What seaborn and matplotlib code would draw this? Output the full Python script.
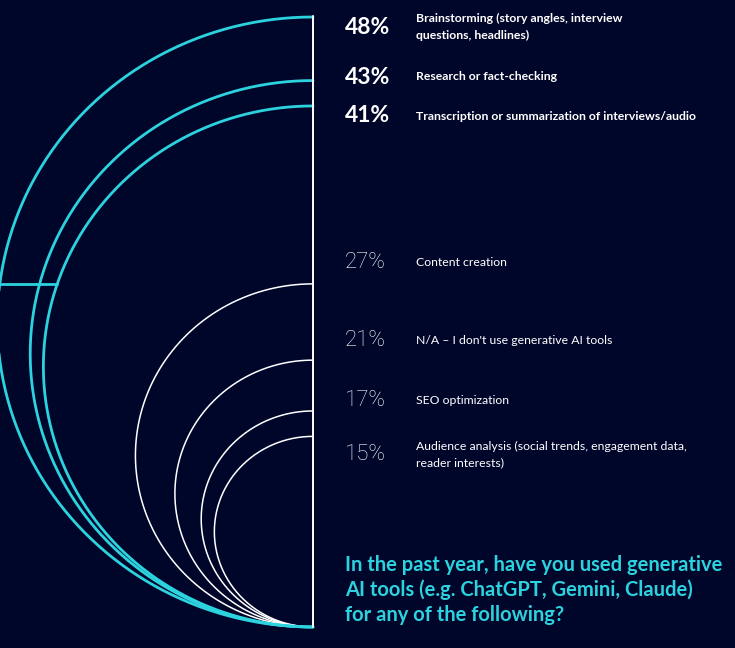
import numpy as np
import pandas as pd
import seaborn as sns
import matplotlib.pyplot as plt

# survey answers, top three highlighted in cyan
categories = [
    'Brainstorming (story angles, interview\nquestions, headlines)',
    'Research or fact-checking',
    'Transcription or summarization of interviews/audio',
    'Content creation',
    "N/A – I don't use generative AI tools",
    'SEO optimization',
    'Audience analysis (social trends, engagement data,\nreader interests)',
]
values = [48, 43, 41, 27, 21, 17, 15]
highlight = [True, True, True, False, False, False, False]
title = ('In the past year, have you used generative\n'
         'AI tools (e.g. ChatGPT, Gemini, Claude)\n'
         'for any of the following?')

bg = '#00052a'
cyan = '#2cd3de'

sns.set_theme(style='dark', rc={'axes.facecolor': bg, 'figure.facecolor': bg})
plt.rcParams['font.family'] = ['Lato', 'DejaVu Sans']

fig = plt.figure(figsize=(7.35, 6.48), dpi=100)
ax = fig.add_axes([0, 0, 1, 1])
ax.set_xlim(0, 735)
ax.set_ylim(648, 0)
ax.axis('off')

# layout: arcs all touch the base point, diameter scales with the value
x0, y0 = 313, 627
scale = 610 / max(values)
stretch = 1.035
theta = np.linspace(np.pi / 2, 3 * np.pi / 2, 300)

rows = []
for cat, v, hi in zip(categories, values, highlight):
    r = v * scale / 2
    cy = y0 - r
    rows.append(pd.DataFrame({'x': x0 + stretch * r * np.cos(theta),
                              'y': cy - r * np.sin(theta),
                              'cat': cat, 'hi': hi}))
arcs = pd.concat(rows, ignore_index=True)

sns.lineplot(data=arcs[~arcs.hi], x='x', y='y', units='cat', estimator=None,
             sort=False, color='white', lw=1.1, ax=ax)
sns.lineplot(data=arcs[arcs.hi], x='x', y='y', units='cat', estimator=None,
             sort=False, color=cyan, lw=2, ax=ax)

# horizontal tick from the left edge to the third arc
hy = 284
r3 = values[2] * scale / 2
c3 = y0 - r3
hx = x0 - stretch * np.sqrt(r3 ** 2 - (hy - c3) ** 2)
ax.plot([0, hx], [hy, hy], color=cyan, lw=2)

# vertical axis line
ax.plot([x0, x0], [y0, y0 - max(values) * scale - 1.5], color='white', lw=1.4)

# labels
label_y = [27, 77, 116, 263, 341, 401, 455]
for cat, v, hi, ly in zip(categories, values, highlight, label_y):
    if hi:
        ax.text(345, ly, f'{v}%', color='white', fontsize=16.5,
                fontweight='bold', va='center', ha='left')
    else:
        ax.text(345, ly, f'{v}%', color='white', fontsize=16,
                family=['Roboto', 'DejaVu Sans'], fontweight='light',
                va='center', ha='left')
    ax.text(416, ly, cat, color='white', fontsize=8.8,
            fontweight='bold' if hi else 'normal', va='center', ha='left',
            linespacing=1.6)

ax.text(345, 590, title, color=cyan, fontsize=14.5, fontweight='bold',
        va='center', ha='left', linespacing=1.3)

fig.savefig('out.png', dpi=100, facecolor=bg)
